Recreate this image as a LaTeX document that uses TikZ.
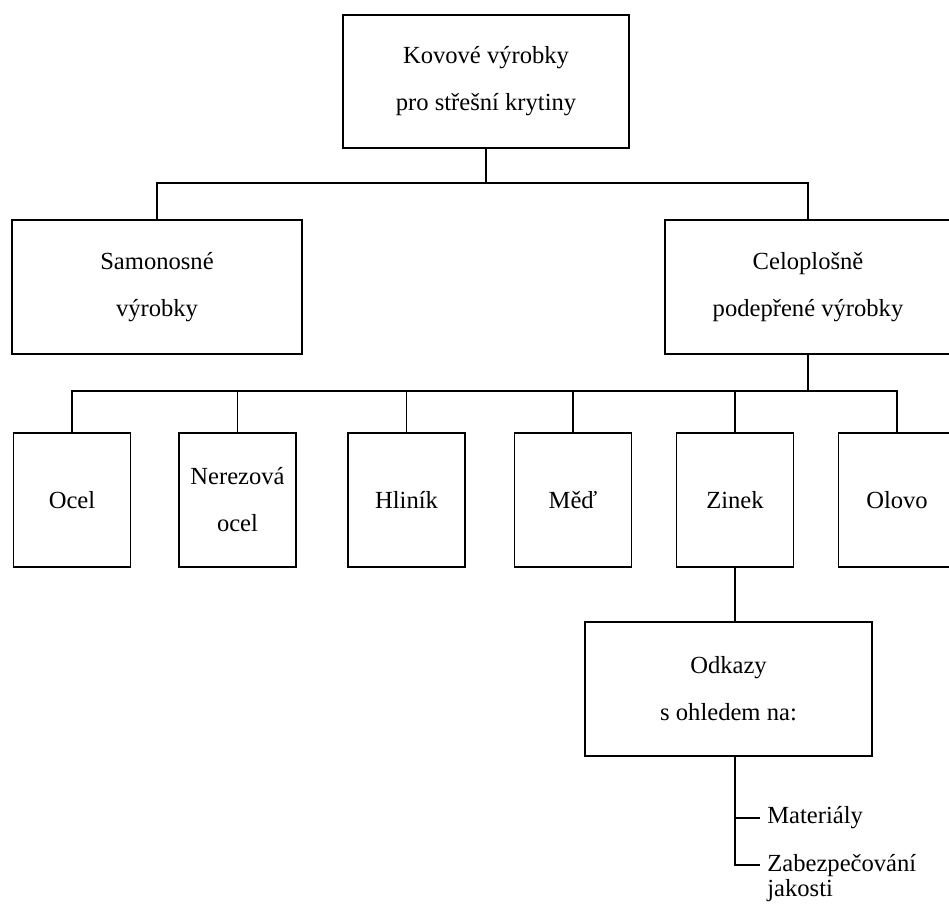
\documentclass[tikz,border=0pt]{standalone}
\usepackage{fontspec}
\setmainfont{Liberation Serif}
\usetikzlibrary{positioning,calc}

\begin{document}
\begin{tikzpicture}[x=0.02cm, y=-0.02cm,
    grp/.style={draw, line width=1pt, minimum height=2.68cm, align=center, font=\fontsize{14}{26.7}\selectfont},
    leaf/.style={grp, minimum width=2.34cm},
    lbl/.style={font=\fontsize{14}{12}\selectfont, align=left, inner xsep=0.14cm, inner ysep=0pt},
    con/.style={line width=1pt}
]
\useasboundingbox (0,0) rectangle (949,903);
\clip (0,0) rectangle (949,903);

% upper levels
\node[grp, minimum width=5.72cm, minimum height=2.66cm] (kov) at (486,81.5) {Kovové výrobky\\pro střešní krytiny};
\node[grp, minimum width=5.8cm] (samo) at (157,287) {Samonosné\\výrobky};
\node[grp, minimum width=5.72cm] (celo) at (808,287) {Celoplošně\\podepřené výrobky};

% metals
\node[leaf] (ocel) at (72,500) {Ocel};
\node[leaf] (nerez) at (237.5,500) {Nerezová\\ocel};
\node[leaf] (hlin) at (406.5,500) {Hliník};
\node[leaf] (med) at (573,500) {Měď};
\node[leaf] (zin) at (735,500) {Zinek};
\node[leaf] (olo) at (897,500) {Olovo};

\node[grp, minimum width=5.74cm] (odk) at (728.5,689) {Odkazy\\s ohledem na:};

\node[lbl, anchor=west] (mat) at (760,818) {Materiály};
\coordinate (zt) at (760,865);
\node[lbl, anchor=base west] (zab) at (760,896) {Zabezpečování\\jakosti};

\draw[con] (kov.south) -- ++(0,34) -| (samo.north);
\draw[con] (kov.south) -- ++(0,34) -| (celo.north);
\foreach \n in {ocel,nerez,hlin,med,zin,olo}
  \draw[con] (celo.south) -- ++(0,36) -| (\n.north);
\draw[con] (zin.south) -- (zin.south |- odk.north);
\draw[con] (zin.south |- odk.south) |- (zt);
\draw[con] (zin.south |- mat.west) -- (mat.west);
\end{tikzpicture}
\end{document}
